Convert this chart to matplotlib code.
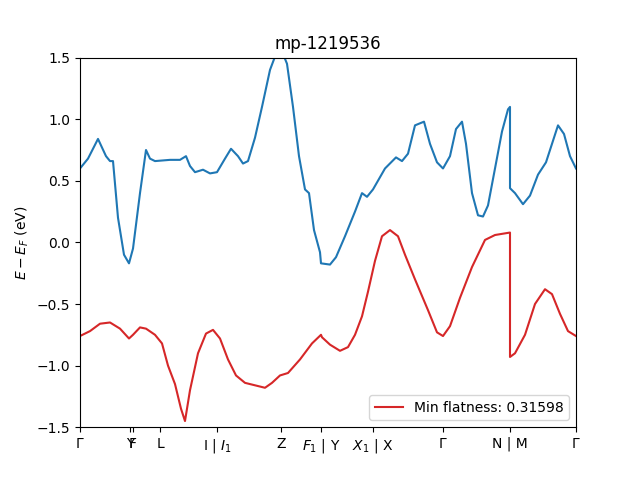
import numpy as np
import matplotlib
matplotlib.use("Agg")
import matplotlib.pyplot as plt

# k-path distance (arbitrary units) and energies
blue_k = [80, 88, 98, 106, 110, 113, 118, 124, 129, 133, 140, 146, 150, 155, 170, 180, 186, 190, 195,
          203, 210, 217, 225, 231, 238, 243, 248, 255, 262, 270, 276, 282, 287, 293, 299, 305, 309, 314,
          320, 321, 330, 336, 345, 355, 362, 367, 373, 385, 396, 402, 408, 415, 424, 430, 437, 443, 450,
          456, 462, 466, 472, 478, 483, 488, 495, 502, 508, 510, 510, 515, 523, 530, 538, 546, 552, 558,
          564, 570, 576]
blue_e = [0.6, 0.68, 0.84, 0.7, 0.66, 0.66, 0.2, -0.1, -0.17, -0.05, 0.4, 0.75, 0.68, 0.66, 0.67, 0.67,
          0.7, 0.62, 0.57, 0.59, 0.56, 0.57, 0.68, 0.76, 0.7, 0.64, 0.66, 0.85, 1.1, 1.4, 1.53, 1.55, 1.45,
          1.1, 0.7, 0.43, 0.4, 0.1, -0.08, -0.17, -0.18, -0.12, 0.05, 0.25, 0.4, 0.37, 0.43, 0.6, 0.69, 0.66,
          0.72, 0.95, 0.98, 0.8, 0.65, 0.6, 0.7, 0.92, 0.98, 0.8, 0.4, 0.22, 0.21, 0.3, 0.6, 0.9, 1.08, 1.1,
          0.44, 0.4, 0.31, 0.38, 0.55, 0.65, 0.8, 0.95, 0.88, 0.7, 0.6]
red_k = [80, 90, 100, 110, 120, 129, 133, 140, 146, 155, 162, 168, 175, 181, 185, 190, 198, 206, 213, 220,
         228, 236, 245, 255, 265, 272, 280, 288, 300, 312, 321, 322, 330, 340, 348, 355, 362, 368, 375, 382,
         390, 398, 405, 415, 428, 437, 443, 450, 460, 472, 485, 495, 510, 510, 515, 525, 535, 545, 552, 560,
         568, 576]
red_e = [-0.76, -0.72, -0.66, -0.65, -0.7, -0.78, -0.75, -0.69, -0.7, -0.75, -0.82, -1.0, -1.15, -1.35,
         -1.45, -1.2, -0.9, -0.74, -0.71, -0.78, -0.95, -1.08, -1.14, -1.16, -1.18, -1.14, -1.08, -1.06,
         -0.95, -0.82, -0.75, -0.77, -0.83, -0.88, -0.85, -0.75, -0.6, -0.4, -0.15, 0.05, 0.1, 0.05, -0.1,
         -0.3, -0.55, -0.73, -0.76, -0.68, -0.45, -0.2, 0.02, 0.06, 0.08, -0.93, -0.9, -0.75, -0.5, -0.38,
         -0.42, -0.58, -0.72, -0.76]

tick_pos = [80, 130, 133, 160, 217, 281, 321, 373, 443, 510, 576]
tick_labels = [r"$\Gamma$", "Y", "F", "L", r"I | $I_1$", "Z", r"$F_1$ | Y", r"$X_1$ | X",
               r"$\Gamma$", "N | M", r"$\Gamma$"]

fig, ax = plt.subplots(figsize=(6.4, 4.8), dpi=100)
ax.plot(blue_k, blue_e, color="tab:blue", lw=1.5)
ax.plot(red_k, red_e, color="tab:red", lw=1.5, label="Min flatness: 0.31598")
ax.set_xlim(80, 576)
ax.set_ylim(-1.5, 1.5)
ax.set_xticks(tick_pos)
ax.set_xticklabels(tick_labels)
ax.set_ylabel(r"$E - E_F$ (eV)")
ax.set_title("mp-1219536")
ax.legend(loc="lower right")
fig.savefig("out.png")
